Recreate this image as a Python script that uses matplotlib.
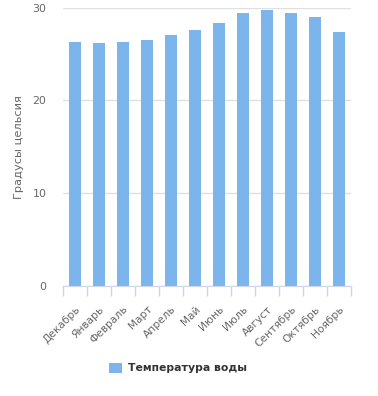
import matplotlib.pyplot as plt

# Data
months = ["Декабрь", "Январь", "Февраль", "Март", "Апрель", "Май",
          "Июнь", "Июль", "Август", "Сентябрь", "Октябрь", "Ноябрь"]
water_temp = [26.3, 26.2, 26.3, 26.5, 27.0, 27.6, 28.3, 29.4, 29.7, 29.4, 29.0, 27.4]
y_ticks = [0, 10, 20, 30]

plt.rcParams['font.family'] = ['DejaVu Sans']

fig = plt.figure(figsize=(3.78, 3.96), dpi=100)
ax = fig.add_axes([63 / 378, 1 - 286 / 396, 288 / 378, 278.5 / 396])

x = range(len(months))
bars = ax.bar(x, water_temp, width=0.5, color="#7cb5ec", zorder=3,
              label="Температура воды")

ax.set_xlim(-0.5, len(months) - 0.5)
ax.set_ylim(0, 30)
ax.set_yticks(y_ticks)
# category boundaries get the tick marks, labels sit at category centres
ax.set_xticks([i - 0.5 for i in range(len(months) + 1)], minor=False)
ax.set_xticklabels([])
ax.set_xticks(list(x), minor=True)
ax.set_xticklabels(months, minor=True, rotation=45, ha="right",
                   rotation_mode="anchor", fontsize=7.7, color="#666666")
ax.tick_params(axis="x", which="major", length=7, color="#ccd6eb", width=1)
ax.tick_params(axis="x", which="minor", length=0, pad=13)
ax.tick_params(axis="y", length=0, labelsize=7.9, labelcolor="#666666", pad=12)

ax.grid(axis="y", color="#e0e0e0", linewidth=1, zorder=0)
for side in ["top", "right", "left"]:
    ax.spines[side].set_visible(False)
ax.spines["bottom"].set_color("#ccd6eb")
ax.spines["bottom"].set_zorder(4)

ax.set_ylabel("Градусы цельсия", fontsize=8.2, color="#666666", labelpad=6)

leg = fig.legend(handles=[bars], loc="center", bbox_to_anchor=(178 / 378, 1 - 368 / 396),
                 frameon=False, prop={"weight": "bold", "size": 7.8},
                 handlelength=1.2, handleheight=1.1, handletextpad=0.5)
for t in leg.get_texts():
    t.set_color("#333333")

fig.savefig("out.png", dpi=100)
